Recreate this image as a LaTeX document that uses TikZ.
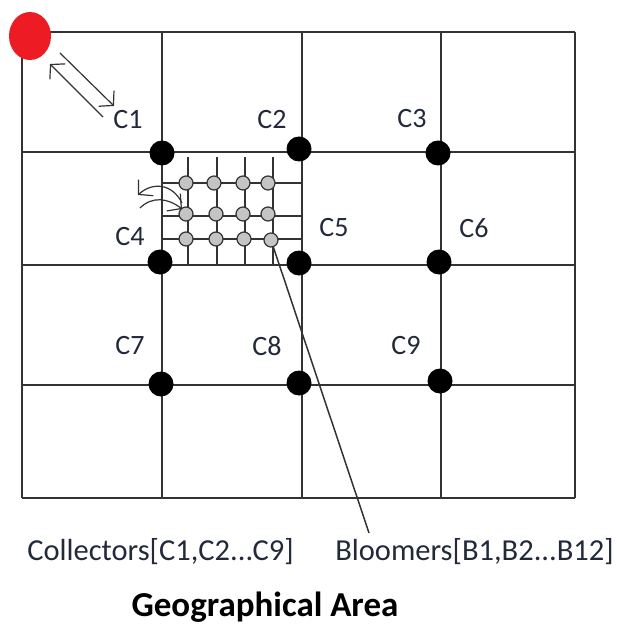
\documentclass[tikz,border=0pt]{standalone}
\usepackage{fontspec}
\setmainfont{Carlito}
\usetikzlibrary{arrows.meta,shapes.geometric}
\definecolor{gridc}{HTML}{333333}
\definecolor{txt}{HTML}{222A3A}
\definecolor{redc}{HTML}{ED1C24}
\definecolor{bloomc}{HTML}{C4C4C4}
\begin{document}
\begin{tikzpicture}[x=1pt,y=-1pt,
  gridline/.style={draw=gridc, line width=2pt},
  fineline/.style={draw=gridc, line width=1.4pt},
  collector/.style={circle, fill=black, inner sep=0pt, minimum size=25pt},
  bloomer/.style={circle, fill=bloomc, draw=gridc, line width=1.2pt, inner sep=0pt, minimum size=14pt},
  clabel/.style={text=txt, font=\fontsize{28}{30}\selectfont, inner sep=0pt},
  bottomtext/.style={text=txt, font=\fontsize{30.5}{32}\selectfont, inner sep=0pt, anchor=base},
  barb/.style={-{Straight Barb[length=10pt,width=22pt]}, line width=1.2pt, draw=gridc},
  pointer/.style={draw=gridc, line width=1.5pt}
]
\useasboundingbox (0,0) rectangle (616,628);

% main grid
\foreach \x in {22,162,302,441,575} \draw[gridline] (\x,32) -- (\x,498);
\foreach \y in {32,152,265,385,498} \draw[gridline] (22,\y) -- (575,\y);

% fine grid of bloomers
\foreach \x in {188,217,245,273} \draw[fineline] (\x,157) -- (\x,265);
\foreach \y in {183,216,239} \draw[fineline] (162,\y) -- (302,\y);

% collectors
\node[collector] (c1) at (162,153) {};
\node[collector] (c2) at (299,149) {};
\node[collector] (c3) at (438,153) {};
\node[collector] (c4) at (160,262) {};
\node[collector] (c5) at (299,263) {};
\node[collector] (c6) at (439,262) {};
\node[collector] (c7) at (161,384) {};
\node[collector] (c8) at (299,383) {};
\node[collector] (c9) at (440,381) {};

% collector labels
\node[clabel] (l1) at (128,120) {C1};
\node[clabel] (l2) at (272,120) {C2};
\node[clabel] (l3) at (412,119) {C3};
\node[clabel] (l4) at (130,237) {C4};
\node[clabel] (l5) at (334,228) {C5};
\node[clabel] (l6) at (474,228) {C6};
\node[clabel] (l7) at (130,346) {C7};
\node[clabel] (l8) at (267,346) {C8};
\node[clabel] (l9) at (406,346) {C9};

% bloomers
\node[bloomer] (b1) at (186,183) {};
\node[bloomer] (b2) at (214,183) {};
\node[bloomer] (b3) at (243,183) {};
\node[bloomer] (b4) at (268,183) {};
\node[bloomer] (b5) at (186,214) {};
\node[bloomer] (b6) at (216,214) {};
\node[bloomer] (b7) at (243,214) {};
\node[bloomer] (b8) at (268,214) {};
\node[bloomer] (b9) at (186,239) {};
\node[bloomer] (b10) at (216,239) {};
\node[bloomer] (b11) at (244,239) {};
\node[bloomer] (b12) at (271,240) {};

% red source
\node[ellipse, fill=redc, minimum width=42pt, minimum height=48pt, inner sep=0pt] (src) at (30,36) {};

% arrows between source and C1
\coordinate (a1s) at (60,53);
\coordinate (a1e) at (114,106);
\coordinate (a2s) at (103,117);
\coordinate (a2e) at (50,64);
\draw[barb] (a1s) -- (a1e);
\draw[barb] (a2s) -- (a2e);

% curved arrows between bloomer and C4
\coordinate (k1s) at (182,203);
\coordinate (k1e) at (138,195);
\coordinate (k2s) at (140,208);
\coordinate (k2e) at (182,209);
\draw[barb] (k1s) .. controls (172,183) and (152,182) .. (k1e);
\draw[barb] (k2s) .. controls (152,196) and (168,198) .. (k2e);

% texts
\node[bottomtext] (coll) at (160.5,560) {Collectors[C1,C2...C9]};
\node[bottomtext] (bloom) at (474.5,560) {Bloomers[B1,B2...B12]};
\node[font=\bfseries\fontsize{35}{37}\selectfont, inner sep=0pt, anchor=base] (title) at (265,616) {Geographical Area};

% pointer from bloomer to label
\coordinate (ptr) at (369,533);
\draw[pointer] (b12) -- (ptr);
\end{tikzpicture}
\end{document}
